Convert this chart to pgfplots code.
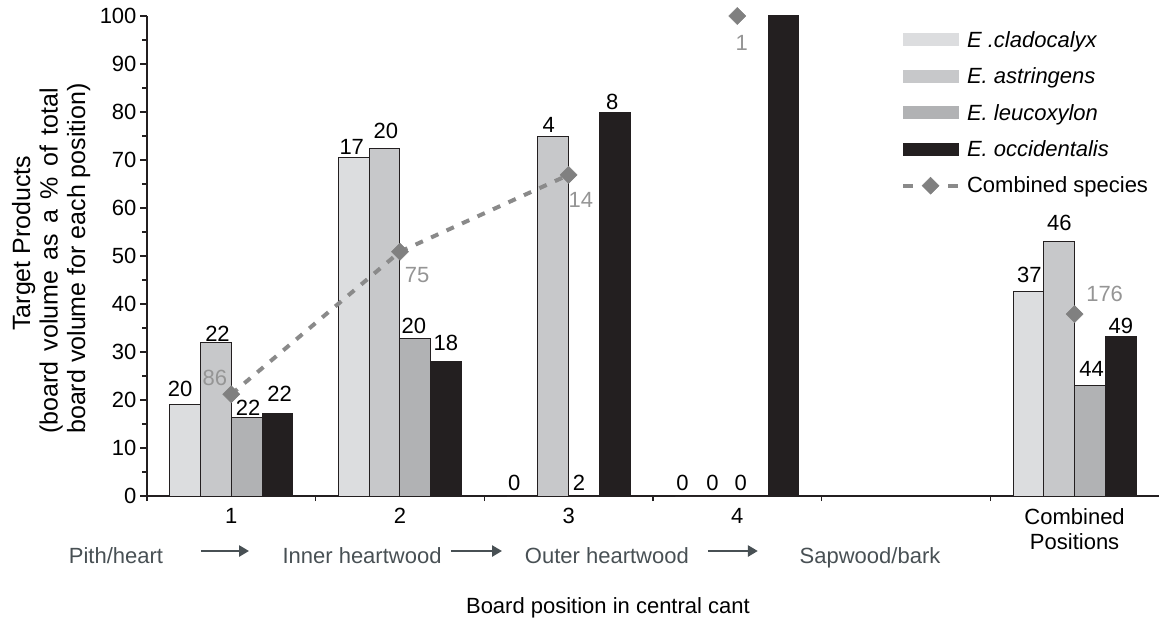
\documentclass[border=0pt]{standalone}
\usepackage{pgfplots}
\pgfplotsset{compat=1.18}
\usepackage{pgfplotstable}
\usepackage{fontspec}
\setmainfont{Liberation Sans}
\usetikzlibrary{arrows.meta}
\definecolor{cA}{HTML}{DCDDDF}
\definecolor{cB}{HTML}{C7C8CA}
\definecolor{cC}{HTML}{B1B2B4}
\definecolor{cD}{HTML}{231F20}
\definecolor{edge}{HTML}{231F20}
\definecolor{comb}{HTML}{8A8A8A}
\definecolor{combmark}{HTML}{808080}
\definecolor{graylbl}{HTML}{959595}
\definecolor{slate}{HTML}{485054}

\pgfplotsset{
  combleg/.style={legend image code/.code={%
    \draw[##1, mark=none, solid] (0pt,0pt) -- (10pt,0pt);
    \draw[##1, mark=none, solid] (45pt,0pt) -- (55pt,0pt);
    \draw[##1] plot coordinates {(27.5pt,0pt)};}},
  barleg/.style={legend image code/.code={\fill[#1] (0pt,-6pt) rectangle (55pt,6pt);}},
}

\pgfplotstableread{
x   a     b     c     d
0   19.0  31.9  16.3  17.2
1   70.6  72.4  32.8  28.0
2   0     74.9  0     79.9
3   0     0     0     100
5   42.7  53.1  23.1  33.2
}\bars

\pgfplotstableread{
x  y
0  21.2
1  50.9
2  66.9
}\combline

\pgfplotstableread{
x  y
3  100
5  37.9
}\combpts

\pgfplotstableread{
x      y      lbl
-0.303 22.35  20
-0.082 33.8   22
0.099  18.33  22
0.287  21.25  22
0.714  72.7   17
0.916  76.0   20
1.083  35.46  20
1.272  31.9   18
1.677  2.81   0
1.882  77.3   4
2.062  2.81   2
2.259  82.15  8
2.675  2.81   0
2.853  2.81   0
3.021  2.81   0
4.732  46.15  37
4.910  56.8   46
5.101  26.4   44
5.274  35.46  49
}\barlabels

\pgfplotstableread{
x      y      lbl
-0.097 24.5   86
1.101  46.1   75
2.072  61.67  14
3.026  94.48  1
5.178  42.1   176
}\comblabels

\begin{document}
\begin{tikzpicture}[font=\fontsize{22}{25}\selectfont]
\useasboundingbox (0,0) rectangle (1159pt,622pt);
\begin{axis}[
  at={(147pt,126pt)}, anchor=south west,
  scale only axis, width=1012pt, height=480pt,
  xmin=-0.5, xmax=5.5, ymin=0, ymax=100,
  axis lines*=left,
  axis line style={draw=edge, line width=2pt},
  xtick={0,1,2,3,4,5},
  xticklabels={1,2,3,4,{},{Combined\\Positions}},
  xticklabel style={align=center, text=black, yshift=-2pt},
  yticklabel style={text=black},
  minor xtick={-0.5,0.5,1.5,2.5,3.5,4.5},
  ytick={0,10,...,100},
  minor ytick={5,15,...,95},
  tick align=outside,
  xtick pos=bottom, ytick pos=left,
  major tick length=7pt, minor tick length=5pt,
  tick style={draw=edge, line width=1.5pt},
  major x tick style={draw=none},
  /pgf/number format/assume math mode=true,
  clip=false,
  legend style={at={(0.742,0.977)}, anchor=north west, draw=none, fill=none,
    row sep=15pt, column sep=5pt, nodes={inner sep=2pt},
    font=\fontsize{22}{25}\selectfont},
  legend cell align=left,
]
\addplot[ybar, bar width=0.1826, bar shift=-0.2739, fill=cA, draw=edge, line width=1pt, barleg=cA]
  table[x=x,y=a]{\bars};
\addlegendentry{\textit{E .cladocalyx}}
\addplot[ybar, bar width=0.1826, bar shift=-0.0913, fill=cB, draw=edge, line width=1pt, barleg=cB]
  table[x=x,y=b]{\bars};
\addlegendentry{\textit{E. astringens}}
\addplot[ybar, bar width=0.1826, bar shift=0.0913, fill=cC, draw=edge, line width=1pt, barleg=cC]
  table[x=x,y=c]{\bars};
\addlegendentry{\textit{E. leucoxylon}}
\addplot[ybar, bar width=0.1826, bar shift=0.2739, fill=cD, draw=edge, line width=1pt, barleg=cD]
  table[x=x,y=d]{\bars};
\addlegendentry{\textit{E. occidentalis}}
\addplot[comb, line width=4pt, dash pattern=on 8pt off 9pt,
  mark=square*, mark size=6pt,
  mark options={solid, rotate=45, fill=combmark, draw=combmark, line width=0.5pt},
  combleg]
  table[x=x,y=y]{\combline};
\addlegendentry{Combined species}
\addplot[forget plot, only marks, mark=square*, mark size=6pt,
  mark options={solid, rotate=45, fill=combmark, draw=combmark, line width=0.5pt}]
  table[x=x,y=y]{\combpts};
\addplot[forget plot, draw=none, mark=none, nodes near coords, point meta=explicit symbolic,
  every node near coord/.append style={anchor=center, inner sep=0pt, text=black}]
  table[x=x, y=y, meta=lbl]{\barlabels};
\addplot[forget plot, draw=none, mark=none, nodes near coords, point meta=explicit symbolic,
  every node near coord/.append style={anchor=center, inner sep=0pt, text=graylbl}]
  table[x=x, y=y, meta=lbl]{\comblabels};
\node[rotate=90, anchor=base west, inner sep=0pt, text=black,
  font=\fontsize{25}{27.5}\selectfont] at (axis cs:-0.8676,12.92)
  {\begin{tabular}[b]{@{}l@{}}
   \multicolumn{1}{@{}c@{}}{\hspace*{31pt}Target Products}\\
   \makebox[346pt][s]{(board volume as a \% of total}\\
   board volume for each position)
   \end{tabular}};
\node[text=slate, anchor=base] at (axis cs:-0.684,-14.0) {Pith/heart};
\node[text=slate, anchor=base] at (axis cs:0.775,-14.0) {Inner heartwood};
\node[text=slate, anchor=base] at (axis cs:2.227,-14.0) {Outer heartwood};
\node[text=slate, anchor=base] at (axis cs:3.787,-14.0) {Sapwood/bark};
\draw[slate, line width=2.5pt, -{Triangle[length=10pt,width=11pt]}] (axis cs:-0.180,-11.46) -- (axis cs:0.105,-11.46);
\draw[slate, line width=2.5pt, -{Triangle[length=10pt,width=11pt]}] (axis cs:1.302,-11.46) -- (axis cs:1.605,-11.46);
\draw[slate, line width=2.5pt, -{Triangle[length=10pt,width=11pt]}] (axis cs:2.826,-11.46) -- (axis cs:3.122,-11.46);
\node[text=black, anchor=base] at (axis cs:2.233,-24.4) {Board position in central cant};
\end{axis}
\end{tikzpicture}
\end{document}
